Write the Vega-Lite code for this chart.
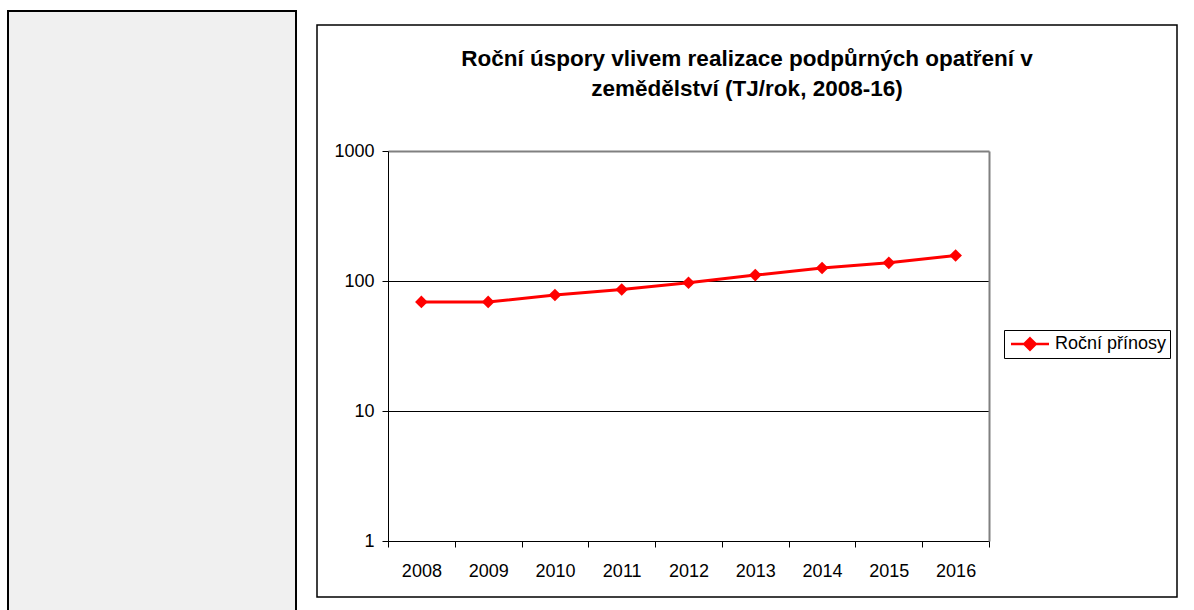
{
  "$schema": "https://vega.github.io/schema/vega-lite/v6.json",
  "padding": {"left": 7, "top": 10, "right": 0, "bottom": 0},
  "background": "white",
  "spacing": 21,
  "bounds": "flush",
  "center": true,
  "config": {
    "font": "Liberation Sans",
    "axis": {"labelFont": "Liberation Sans", "labelColor": "black", "labelFontSize": 18},
    "legend": {"labelFont": "Liberation Sans", "labelColor": "black", "labelFontSize": 18}
  },
  "hconcat": [
    {
      "width": 288,
      "height": 600,
      "view": {"fill": "#f0f0f0", "stroke": "black", "strokeWidth": 2},
      "data": {"values": [{"label": ""}]},
      "mark": {"type": "text"},
      "encoding": {"text": {"field": "label"}}
    },
    {
      "width": 860,
      "height": 572,
      "view": {"fill": "white", "stroke": "black", "strokeWidth": 1.5},
      "title": {
        "text": ["Roční úspory vlivem realizace podpůrných opatření v", "zemědělství (TJ/rok, 2008-16)"],
        "font": "Liberation Sans",
        "fontSize": 22.5,
        "fontWeight": "bold",
        "lineHeight": 30,
        "color": "black",
        "anchor": "middle",
        "frame": "group",
        "offset": -75
      },
      "data": {
        "values": [
          {"year": "2008", "value": 69, "series": "Roční přínosy"},
          {"year": "2009", "value": 69, "series": "Roční přínosy"},
          {"year": "2010", "value": 78, "series": "Roční přínosy"},
          {"year": "2011", "value": 86, "series": "Roční přínosy"},
          {"year": "2012", "value": 97, "series": "Roční přínosy"},
          {"year": "2013", "value": 111, "series": "Roční přínosy"},
          {"year": "2014", "value": 126, "series": "Roční přínosy"},
          {"year": "2015", "value": 138, "series": "Roční přínosy"},
          {"year": "2016", "value": 157, "series": "Roční přínosy"}
        ]
      },
      "encoding": {
        "x": {
          "field": "year",
          "type": "ordinal",
          "scale": {"type": "band", "paddingInner": 0, "paddingOuter": 0, "range": [71, 672]},
          "axis": {
            "orient": "bottom",
            "offset": -56,
            "title": null,
            "tickBand": "extent",
            "labelAngle": 0,
            "domainColor": "black",
            "tickColor": "black",
            "tickSize": 6,
            "labelPadding": 15,
            "grid": false
          }
        }
      },
      "layer": [
        {
          "mark": {
            "type": "line",
            "color": "#ff0000",
            "strokeWidth": 3,
            "point": {"shape": "diamond", "filled": true, "size": 160, "color": "#ff0000"}
          },
          "encoding": {
            "y": {
              "field": "value",
              "type": "quantitative",
              "scale": {"type": "log", "domain": [1, 1000], "range": [516, 126], "nice": false},
              "axis": {
                "orient": "left",
                "offset": -71,
                "values": [1, 10, 100, 1000],
                "format": "d",
                "title": null,
                "grid": true,
                "gridColor": {"condition": {"test": "datum.value >= 1000", "value": "#808080"}, "value": "black"},
                "gridWidth": {"condition": {"test": "datum.value >= 1000", "value": 2}, "value": 1},
                "domainColor": "black",
                "tickColor": "black",
                "tickSize": 6,
                "labelPadding": 8
              }
            },
            "color": {
              "field": "series",
              "type": "nominal",
              "scale": {"range": ["#ff0000"]},
              "legend": {
                "orient": "none",
                "legendX": 996,
                "legendY": 319,
                "title": null,
                "strokeColor": "black",
                "fillColor": "white",
                "padding": 3,
                "symbolType": "M-2,0L2,0M0,-0.6L0.6,0L0,0.6L-0.6,0Z",
                "symbolSize": 361,
                "symbolStrokeWidth": 2.5,
                "symbolOffset": 12,
                "labelOffset": 14,
                "encode": {"symbols": {"update": {"fill": {"value": "#ff0000"}, "stroke": {"value": "#ff0000"}, "strokeWidth": {"value": 2.5}, "opacity": {"value": 1}}}}
              }
            }
          }
        },
        {
          "mark": {"type": "point", "opacity": 0},
          "encoding": {
            "y": {
              "field": "value",
              "type": "quantitative",
              "scale": {"type": "log", "domain": [1, 1000], "range": [516, 126], "nice": false},
              "axis": {
                "orient": "right",
                "offset": -188,
                "domainColor": "#808080",
                "domainWidth": 2,
                "labels": false,
                "ticks": false,
                "grid": false,
                "title": null
              }
            }
          }
        }
      ],
      "resolve": {"axis": {"y": "independent"}}
    }
  ]
}
